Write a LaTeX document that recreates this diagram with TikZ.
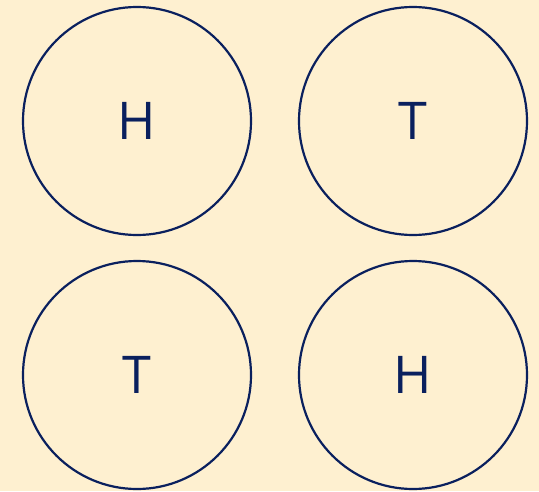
\documentclass[tikz,border=0pt]{standalone}
\usepackage{fontspec}
\setmainfont{Open Sans}
\definecolor{bg}{RGB}{254,240,208}
\definecolor{navy}{RGB}{10,32,94}
\begin{document}
\begin{tikzpicture}[x=1pt,y=-1pt,
  coin/.style={circle,draw=navy,line width=2.2pt,minimum size=228pt,inner sep=0pt,text=navy,font=\fontsize{52}{52}\selectfont}]
\fill[bg] (0,0) rectangle (539,491);
\useasboundingbox (0,0) rectangle (539,491);
\node[coin] (a) at (137,121) {H};
\node[coin] (b) at (413,121) {T};
\node[coin] (c) at (137,375) {T};
\node[coin] (d) at (413,375) {H};
\end{tikzpicture}
\end{document}
